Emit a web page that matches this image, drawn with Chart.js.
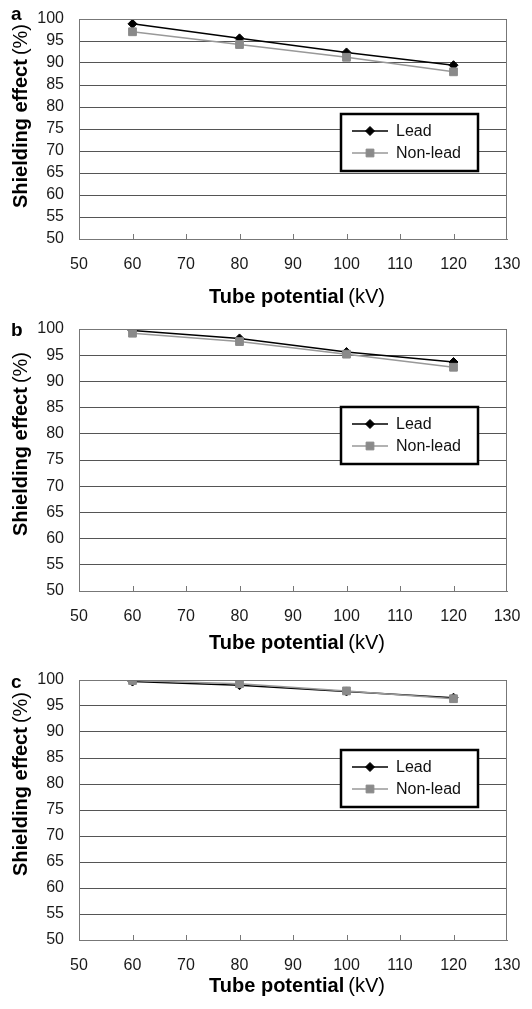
<!DOCTYPE html>
<html>
<head>
<meta charset="utf-8">
<script src="https://cdn.jsdelivr.net/npm/chart.js@4.4.1/dist/chart.umd.min.js"></script>
<style>
  html, body { margin: 0; padding: 0; background: #fff; }
  body { width: 532px; height: 1009px; position: relative; overflow: hidden; }
  canvas { position: absolute; left: 0; }
</style>
</head>
<body>
<canvas id="chart-a" width="532" height="315" style="top:0px"></canvas>
<canvas id="chart-b" width="532" height="345" style="top:315px"></canvas>
<canvas id="chart-c" width="532" height="349" style="top:660px"></canvas>
<script>
(function () {
  'use strict';

  // data
  var tubeKv = [60, 80, 100, 120];
  var leadA = [98.9, 95.6, 92.4, 89.5];
  var nonLeadA = [97.1, 94.2, 91.3, 88.0];
  var leadB = [99.7, 98.2, 95.6, 93.7];
  var nonLeadB = [99.2, 97.6, 95.2, 92.7];
  var leadC = [99.7, 99.0, 97.8, 96.6];
  var nonLeadC = [99.9, 99.3, 97.9, 96.4];
  var seriesNames = ['Lead', 'Non-lead'];
  var panelLetters = ['a', 'b', 'c'];
  var xTitleParts = ['Tube potential', '(kV)'];
  var yTitleParts = ['Shielding effect', '(%)'];
  var xTickRange = [50, 130, 10];
  var yTickRange = [50, 100, 5];

  var fontFamily = "'Liberation Sans', Arial, sans-serif";
  var titleSize = 20;
  var leadColor = '#000000';
  var nonLeadColor = '#8a8a8a';
  var nonLeadLine = '#999999';

  function points(vals) {
    return tubeKv.map(function (k, i) {
      return { x: k, y: vals[i] };
    });
  }

  function drawMarker(ctx, style, x, y, r, color) {
    if (Chart.helpers && Chart.helpers.drawPoint) {
      ctx.fillStyle = color;
      ctx.strokeStyle = color;
      ctx.lineWidth = 1;
      Chart.helpers.drawPoint(ctx, { pointStyle: style, radius: r, borderWidth: 1 }, x, y);
    }
  }

  // bold label + normal-weight unit, centred on (x, y)
  function drawTwoPart(ctx, parts, x, y) {
    ctx.font = 'bold ' + titleSize + 'px ' + fontFamily;
    var wb = ctx.measureText(parts[0]).width;
    ctx.font = titleSize + 'px ' + fontFamily;
    var wn = ctx.measureText(parts[1]).width;
    var gap = 4;
    var start = x - (wb + gap + wn) / 2;
    ctx.textAlign = 'left';
    ctx.textBaseline = 'middle';
    ctx.font = 'bold ' + titleSize + 'px ' + fontFamily;
    ctx.fillText(parts[0], start, y);
    ctx.font = titleSize + 'px ' + fontFamily;
    ctx.fillText(parts[1], start + wb + gap, y);
  }

  var panelDecor = {
    id: 'panelDecor',
    afterDraw: function (chart, _args, opts) {
      var ctx = chart.ctx;
      var area = chart.chartArea;
      var xs = chart.scales.x;
      ctx.save();

      // plot frame top + right
      ctx.strokeStyle = '#777';
      ctx.lineWidth = 1;
      ctx.beginPath();
      var r = Math.round(area.right) - 0.5;
      var t = Math.round(area.top) + 0.5;
      ctx.moveTo(area.left, t);
      ctx.lineTo(r, t);
      ctx.lineTo(r, area.bottom);
      ctx.stroke();

      // inward tick marks on x axis
      ctx.beginPath();
      for (var v = xTickRange[0] + xTickRange[2]; v < xTickRange[1]; v += xTickRange[2]) {
        var px = Math.round(xs.getPixelForValue(v)) + 0.5;
        ctx.moveTo(px, area.bottom);
        ctx.lineTo(px, area.bottom - 5);
      }
      ctx.stroke();

      // legend box
      var lx = area.left + 262;
      var ly = area.top + opts.legendTop;
      ctx.fillStyle = '#fff';
      ctx.fillRect(lx, ly, 137, 57);
      ctx.strokeStyle = '#000';
      ctx.lineWidth = 2.5;
      ctx.strokeRect(lx, ly, 137, 57);
      var rows = [
        { name: seriesNames[0], line: leadColor, fill: leadColor, style: 'rectRot', r: 4.5 },
        { name: seriesNames[1], line: nonLeadLine, fill: nonLeadColor, style: 'rect', r: 5.5 }
      ];
      rows.forEach(function (row, i) {
        var ry = ly + 17 + i * 22;
        ctx.strokeStyle = row.line;
        ctx.lineWidth = 1.5;
        ctx.beginPath();
        ctx.moveTo(lx + 11, ry);
        ctx.lineTo(lx + 47, ry);
        ctx.stroke();
        drawMarker(ctx, row.style, lx + 29, ry, row.r, row.fill);
        ctx.fillStyle = '#111';
        ctx.font = '16px ' + fontFamily;
        ctx.textAlign = 'left';
        ctx.textBaseline = 'middle';
        ctx.fillText(row.name, lx + 55, ry + 1);
      });

      // panel letter
      ctx.fillStyle = '#000';
      ctx.font = 'bold 19px ' + fontFamily;
      ctx.textAlign = 'left';
      ctx.textBaseline = 'alphabetic';
      ctx.fillText(opts.letter, 11, area.top + opts.letterDy);

      // axis titles
      ctx.fillStyle = '#000';
      drawTwoPart(ctx, xTitleParts, (area.left + area.right) / 2 + 4, area.bottom + opts.xTitleDy);
      ctx.save();
      ctx.translate(21, (area.top + area.bottom) / 2 + opts.yTitleDy);
      ctx.rotate(-Math.PI / 2);
      drawTwoPart(ctx, yTitleParts, 0, 0);
      ctx.restore();

      ctx.restore();
    }
  };

  function makePanel(id, lead, nonLead, cfg) {
    var el = document.getElementById(id);
    return new Chart(el, {
      type: 'line',
      data: {
        datasets: [
          {
            label: seriesNames[0],
            data: points(lead),
            borderColor: leadColor,
            backgroundColor: leadColor,
            borderWidth: 1.5,
            pointStyle: 'rectRot',
            pointRadius: 4.5,
            pointBorderWidth: 1,
            tension: 0,
            order: 1
          },
          {
            label: seriesNames[1],
            data: points(nonLead),
            borderColor: nonLeadLine,
            backgroundColor: nonLeadColor,
            pointBorderColor: nonLeadColor,
            borderWidth: 1.5,
            pointStyle: 'rect',
            pointRadius: 5.5,
            pointBorderWidth: 1,
            tension: 0,
            order: 0
          }
        ]
      },
      options: {
        responsive: false,
        animation: false,
        events: [],
        layout: { padding: { top: cfg.padTop, right: 25, left: 0, bottom: 0 } },
        plugins: {
          legend: { display: false },
          tooltip: { enabled: false },
          panelDecor: cfg
        },
        scales: {
          x: {
            type: 'linear',
            min: xTickRange[0],
            max: xTickRange[1],
            ticks: {
              stepSize: xTickRange[2],
              padding: 16,
              color: '#1a1a1a',
              font: { family: fontFamily, size: 16 },
              maxRotation: 0,
              autoSkip: false
            },
            grid: { display: false, drawTicks: false },
            border: { display: true, color: '#777', width: 1 },
            afterFit: function (scale) {
              scale.height = cfg.xAxisHeight;
              scale.paddingLeft = 0;
              scale.paddingRight = 0;
            }
          },
          y: {
            min: yTickRange[0],
            max: yTickRange[1],
            ticks: {
              stepSize: yTickRange[2],
              padding: 15,
              color: '#1a1a1a',
              font: { family: fontFamily, size: 16 },
              autoSkip: false
            },
            grid: { color: '#555', lineWidth: 1, drawTicks: false },
            border: { display: true, color: '#777', width: 1 },
            afterFit: function (scale) {
              scale.width = 79;
              scale.paddingTop = 0;
              scale.paddingBottom = 0;
            }
          }
        }
      },
      plugins: [panelDecor]
    });
  }

  makePanel('chart-a', leadA, nonLeadA, {
    letter: panelLetters[0], padTop: 19, xAxisHeight: 76,
    letterDy: 1, legendTop: 95, xTitleDy: 58, yTitleDy: -13
  });
  makePanel('chart-b', leadB, nonLeadB, {
    letter: panelLetters[1], padTop: 14, xAxisHeight: 69,
    letterDy: 7, legendTop: 78, xTitleDy: 52, yTitleDy: -16
  });
  makePanel('chart-c', leadC, nonLeadC, {
    letter: panelLetters[2], padTop: 20, xAxisHeight: 69,
    letterDy: 8, legendTop: 70, xTitleDy: 46, yTitleDy: -26
  });
})();
</script>
</body>
</html>
